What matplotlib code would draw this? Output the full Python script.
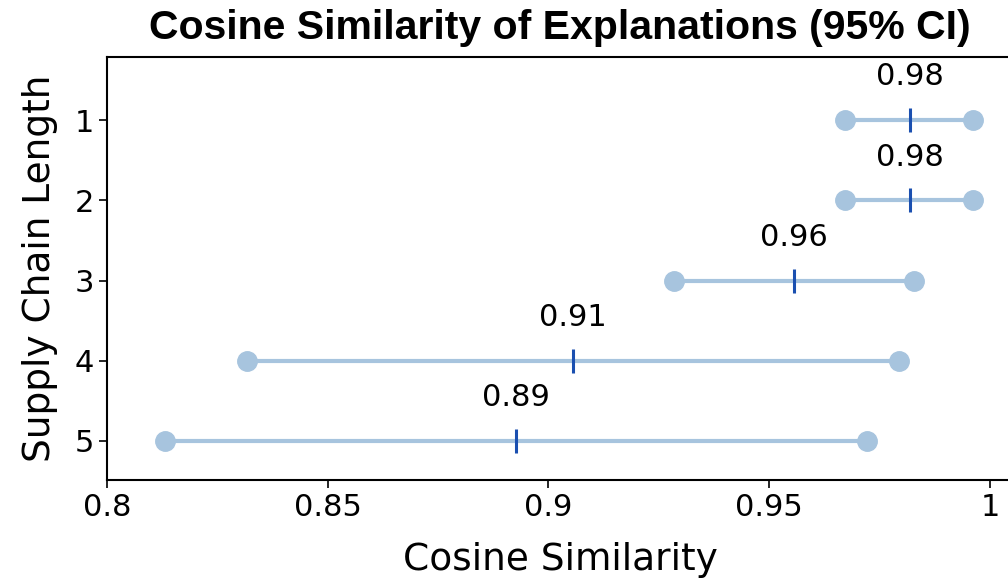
import matplotlib
matplotlib.use("Agg")
import matplotlib.pyplot as plt
from matplotlib.ticker import FuncFormatter

# values
chain_length = [1, 2, 3, 4, 5]
ci_low = [0.9672, 0.9672, 0.9284, 0.8317, 0.8131]
ci_high = [0.9961, 0.9961, 0.9828, 0.9794, 0.9721]
mean_sim = [0.9819, 0.9819, 0.9556, 0.9055, 0.8926]
x_ticks = [0.8, 0.85, 0.9, 0.95, 1.0]

fig = plt.figure(figsize=(10.08, 5.81), dpi=100)
# axes runs just past the right edge of the figure, as in the reference
ax = fig.add_axes([107 / 1008, 1 - 480 / 581, 906 / 1008, 423 / 581])

for y, lo, hi, m in zip(chain_length, ci_low, ci_high, mean_sim):
    ax.plot([lo, hi], [y, y], color="#a7c4de", lw=3, marker="o", ms=14, zorder=2)
    ax.plot([m], [y], marker="|", ms=17, mew=2.2, color="#1a4fb0", zorder=3)
    ax.text(m, y - 0.36, f"{m:.2f}", ha="center", va="bottom", fontsize=22)

ax.set_xlim(0.8, 0.8 + 0.2 * 906 / 883)
ax.set_ylim(5.49, 0.21)
ax.set_xticks(x_ticks)
ax.xaxis.set_major_formatter(FuncFormatter(lambda v, _: f"{v:g}"))
ax.set_yticks(chain_length)
ax.tick_params(labelsize=22, length=6, width=1.2)
for s in ax.spines.values():
    s.set_linewidth(1.5)
ax.spines["right"].set_visible(False)

ax.set_xlabel("Cosine Similarity", fontsize=27, labelpad=14)
ax.set_ylabel("Supply Chain Length", fontsize=27, labelpad=12)
fig.text(560 / 1008, 1 - 28 / 581, "Cosine Similarity of Explanations (95% CI)",
         ha="center", va="center", fontsize=29.5, fontweight="bold",
         family="Liberation Sans")

fig.savefig("out.png", dpi=100)
